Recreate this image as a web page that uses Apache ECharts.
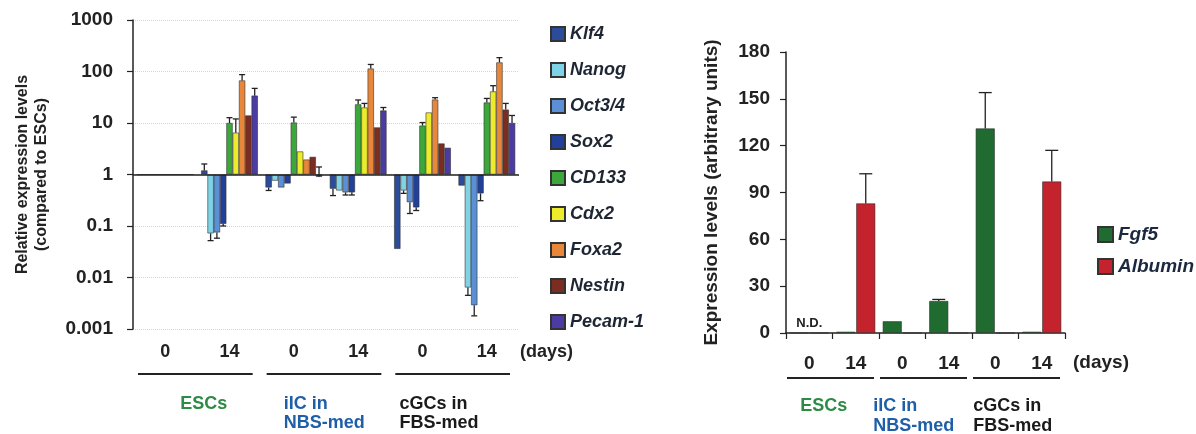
<!DOCTYPE html>
<html><head><meta charset="utf-8">
<script src="https://cdn.jsdelivr.net/npm/echarts@6/dist/echarts.min.js"></script>
<style>html,body{margin:0;padding:0;background:#fff;}#c{width:1196px;height:434px;}</style>
</head><body><div id="c"></div>
<script>
// ---------- data ----------
const days = ['0', '14', '0', '14', '0', '14'];
const groupNames = ['ESCs', 'iIC in\nNBS-med', 'cGCs in\nFBS-med'];
const logTickLabels = ['0.001', '0.01', '0.1', '1', '10', '100', '1000'];
const linTicks = [0, 30, 60, 90, 120, 150, 180];

const geneNames = ['Klf4', 'Nanog', 'Oct3/4', 'Sox2', 'CD133', 'Cdx2', 'Foxa2', 'Nestin', 'Pecam-1'];
const klf4   = [1, 1.2, 0.56, 0.53, 0.036, 0.61];
const nanog  = [1, 0.072, 0.76, 0.49, 0.49, 0.0064];
const oct34  = [1, 0.075, 0.56, 0.45, 0.29, 0.0029];
const sox2   = [1, 0.11, 0.67, 0.45, 0.23, 0.43];
const cd133  = [1, 10, 10.2, 23, 8.9, 25];
const cdx2   = [1, 6.5, 2.8, 20, 16, 41];
const foxa2  = [1, 67, 1.95, 114, 28.5, 150];
const nestin = [1, 14, 2.2, 8.2, 4.0, 18.2];
const pecam1 = [1, 34, 0.9, 17.5, 3.3, 10];

// error-bar end values (null = none drawn)
const klf4Err   = [null, 1.6, 0.49, 0.39, null, null];
const nanogErr  = [null, 0.052, null, null, 0.43, 0.0045];
const oct34Err  = [null, 0.058, null, 0.4, 0.175, 0.0018];
const sox2Err   = [null, 0.1, null, 0.4, 0.2, 0.31];
const cd133Err  = [null, 12.7, 13, 28, 10.2, 30];
const cdx2Err   = [null, 12, null, 24, null, 53];
const foxa2Err  = [null, 87, null, 137, 31, 186];
const nestinErr = [null, null, null, null, null, 24];
const pecam1Err = [null, 47, 1.4, 20, null, 14];

const rightNames = ['Fgf5', 'Albumin'];
const fgf5    = [0, 0.8, 7.5, 20.5, 131, 0.8];
const albumin = [0, 83, 0, 0, 0, 97];
const fgf5Err    = [null, null, null, 21.5, 154, null];
const albuminErr = [null, 102, null, null, null, 117];

// ---------- styles ----------
const FONT = "'Liberation Sans', Arial, sans-serif";
const geneColors = ['#2b4c9b', '#7fd3e6', '#5b8fd6', '#22409a', '#3ca83c', '#ecec2c', '#e8873a', '#7b2d22', '#4b3ca3'];
const rightColors = ['#1f6b30', '#c4222c'];
const groupColors = ['#2e8b46', '#1f5fa8', '#1a1a1a'];
const leftVals = [klf4, nanog, oct34, sox2, cd133, cdx2, foxa2, nestin, pecam1];
const leftErrs = [klf4Err, nanogErr, oct34Err, sox2Err, cd133Err, cdx2Err, foxa2Err, nestinErr, pecam1Err];
const rightVals = [fgf5, albumin];
const rightErrs = [fgf5Err, albuminErr];

const LBW = 6.3, RBW = 19, RGAP = 1;

function errData(vals, errs) {
  const out = [];
  vals.forEach((arr, si) => arr.forEach((v, ci) => {
    const e = errs[si][ci];
    if (e != null) out.push([ci, si, v, e]);
  }));
  return out;
}

function errRender(nSeries, bw, gap, capW) {
  return function (params, api) {
    const ci = api.value(0), si = api.value(1), v = api.value(2), e = api.value(3);
    const p0 = api.coord([ci, v]);
    const p1 = api.coord([ci, e]);
    const total = nSeries * bw + (nSeries - 1) * gap;
    const x = p0[0] - total / 2 + si * (bw + gap) + bw / 2;
    const st = { stroke: '#222', lineWidth: 1.3 };
    return {
      type: 'group',
      children: [
        { type: 'line', shape: { x1: x, y1: p0[1], x2: x, y2: p1[1] }, style: st },
        { type: 'line', shape: { x1: x - capW / 2, y1: p1[1], x2: x + capW / 2, y2: p1[1] }, style: st }
      ]
    };
  };
}

const series = [];
geneNames.forEach((n, i) => {
  const s = {
    name: n, type: 'bar', xAxisIndex: 0, yAxisIndex: 0,
    data: leftVals[i], barWidth: LBW, barGap: '0%',
    itemStyle: { color: geneColors[i], borderColor: '#333', borderWidth: 0.6 },
    emphasis: { disabled: true }
  };
  if (i === 0) {
    s.markLine = {
      silent: true, symbol: ['none', 'none'], label: { show: false },
      lineStyle: { color: '#222', width: 1.6, type: 'solid' },
      data: [{ yAxis: 1 }]
    };
  }
  series.push(s);
});
series.push({
  type: 'custom', name: 'errL', xAxisIndex: 0, yAxisIndex: 0,
  data: errData(leftVals, leftErrs), encode: { x: 0, y: 3 },
  renderItem: errRender(9, LBW, 0, 6), z: 5, silent: true
});
rightNames.forEach((n, i) => {
  series.push({
    name: n, type: 'bar', xAxisIndex: 1, yAxisIndex: 1,
    data: rightVals[i], barWidth: RBW, barGap: (RGAP / RBW * 100) + '%',
    itemStyle: { color: rightColors[i], borderColor: '#333', borderWidth: 0.6 },
    emphasis: { disabled: true }
  });
});
series.push({
  type: 'custom', name: 'errR', xAxisIndex: 1, yAxisIndex: 1,
  data: errData(rightVals, rightErrs), encode: { x: 0, y: 3 },
  renderItem: errRender(2, RBW, RGAP, 13), z: 5, silent: true
});

const chart = echarts.init(document.getElementById('c'), null, { renderer: 'canvas' });
const option = {
  animation: false,
  backgroundColor: '#fff',
  textStyle: { fontFamily: FONT },
  grid: [
    { left: 133, top: 20, width: 386, height: 309 },
    { left: 786, top: 52, width: 279, height: 281 }
  ],
  legend: [
    {
      data: geneNames, orient: 'vertical', left: 545, top: 20,
      itemWidth: 14, itemHeight: 14, itemGap: 18, icon: 'rect',
      textStyle: { fontFamily: FONT, fontSize: 18, fontWeight: 'bold', fontStyle: 'italic', color: '#1e2633', lineHeight: 16 },
      selectedMode: false
    },
    {
      data: rightNames, orient: 'vertical', left: 1092, top: 220,
      itemWidth: 15, itemHeight: 15, itemGap: 13, icon: 'rect',
      textStyle: { fontFamily: FONT, fontSize: 19, fontWeight: 'bold', fontStyle: 'italic', color: '#1c2840', lineHeight: 17 },
      selectedMode: false
    }
  ],
  xAxis: [
    {
      type: 'category', gridIndex: 0, data: days,
      axisLine: { show: false }, axisTick: { show: false },
      axisLabel: { margin: 14, fontFamily: FONT, fontSize: 18, fontWeight: 'bold', color: '#222' }
    },
    {
      type: 'category', gridIndex: 1, data: days,
      axisLine: { show: true, lineStyle: { color: '#222', width: 1.5 } },
      axisTick: { show: true, alignWithLabel: false, length: 6, lineStyle: { color: '#222', width: 1.2 } },
      axisLabel: { margin: 21, fontFamily: FONT, fontSize: 19, fontWeight: 'bold', color: '#222' }
    }
  ],
  yAxis: [
    {
      type: 'log', gridIndex: 0, logBase: 10, min: 0.001, max: 1000,
      axisLine: { show: true, lineStyle: { color: '#222', width: 1.5 } },
      axisTick: { show: true, length: 6, lineStyle: { color: '#222', width: 1.2 } },
      splitLine: { show: true, lineStyle: { color: '#d4d4d4', type: 'dotted', width: 1 } },
      axisLabel: {
        margin: 20, fontFamily: FONT, fontSize: 19, fontWeight: 'bold', color: '#222',
        formatter: v => logTickLabels[Math.round(Math.log10(v)) + 3]
      },
      name: 'Relative expression levels\n(compared to ESCs)', nameLocation: 'middle', nameGap: 82,
      nameTextStyle: { fontFamily: FONT, fontSize: 16, fontWeight: 'bold', color: '#222', lineHeight: 19 }
    },
    {
      type: 'value', gridIndex: 1, min: 0, max: 180, interval: 30,
      axisLine: { show: true, lineStyle: { color: '#222', width: 1.5 } },
      axisTick: { show: true, length: 6, lineStyle: { color: '#222', width: 1.2 } },
      splitLine: { show: false },
      axisLabel: {
        margin: 16, fontFamily: FONT, fontSize: 19, fontWeight: 'bold', color: '#222',
        formatter: v => String(linTicks[linTicks.indexOf(v)])
      },
      name: 'Expression levels (arbitrary units)', nameLocation: 'middle', nameGap: 65,
      nameTextStyle: { fontFamily: FONT, fontSize: 19, fontWeight: 'bold', color: '#222' }
    }
  ],
  series: series
};
chart.setOption(option);

// ---------- annotations (underlines, group names, days, N.D.) ----------
function cx(axisIdx, ci) { return chart.convertToPixel({ xAxisIndex: axisIdx }, ci); }
const g = [];
const txt = (x, y, text, color, size, align, valign, lh) => ({
  type: 'text', x: x, y: y, silent: true,
  style: { text: text, fill: color, font: 'bold ' + size + 'px ' + FONT, align: align || 'left', verticalAlign: valign || 'middle', lineHeight: lh || (size + 2) }
});
const line = (x1, y1, x2, y2) => ({
  type: 'line', silent: true, shape: { x1: x1, y1: y1, x2: x2, y2: y2 },
  style: { stroke: '#222', lineWidth: 2 }
});
// left panel
const lcw = cx(0, 1) - cx(0, 0);
const leftTextOffsets = [15, -10, -23];
for (let k = 0; k < 3; k++) {
  const a = cx(0, 2 * k), b = cx(0, 2 * k + 1);
  g.push(line(a - lcw / 2 + 5, 374, b + lcw / 2 - 9, 374));
  g.push(txt(a + leftTextOffsets[k], 395, groupNames[k], groupColors[k], 18, 'left', 'top', 19));
}
g.push(txt(cx(0, 5) + lcw / 2 + 1, 352, '(days)', '#222', 18, 'left'));
// right panel
const rcw = cx(1, 1) - cx(1, 0);
const rightTextOffsets = [-9, -29, -22];
for (let k = 0; k < 3; k++) {
  const a = cx(1, 2 * k), b = cx(1, 2 * k + 1);
  g.push(line(a - rcw / 2 + 1, 378, b + rcw / 2 - 5, 378));
  g.push(txt(a + rightTextOffsets[k], 396, groupNames[k], groupColors[k], 18, 'left', 'top', 20));
}
g.push(txt(cx(1, 5) + rcw / 2 + 8, 363, '(days)', '#222', 19, 'left'));
const ndPt = chart.convertToPixel({ xAxisIndex: 1, yAxisIndex: 1 }, [0, 0]);
g.push(txt(ndPt[0], ndPt[1] - 10, 'N.D.', '#222', 13, 'center'));
chart.setOption({ graphic: g });
</script>
</body></html>
